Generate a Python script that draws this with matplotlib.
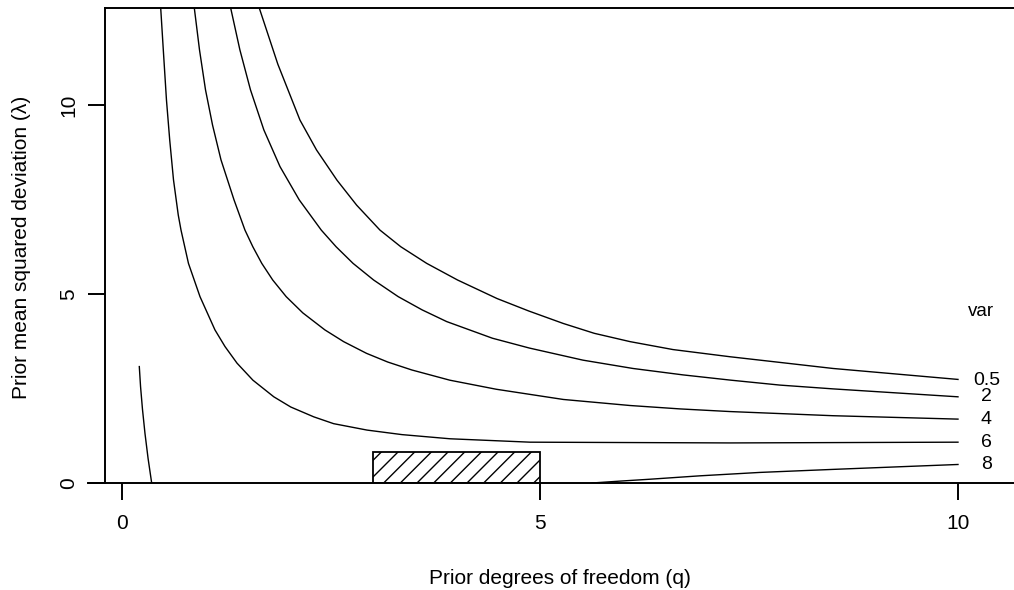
import matplotlib
matplotlib.use('Agg')
import matplotlib.pyplot as plt
from matplotlib.patches import Rectangle

plt.rcParams['font.family'] = ['Liberation Sans', 'DejaVu Sans']
plt.rcParams['hatch.linewidth'] = 1.0

# contour levels of the prior variance
levels = ['0.5', '2', '4', '6', '8']
label_lam = [2.72, 2.28, 1.67, 1.08, 0.48]

q_05 = [1.642, 1.864, 2.129, 2.327, 2.572, 2.807, 3.086, 3.335, 3.645, 4.014, 4.486,
        4.866, 5.279, 5.649, 6.077, 6.591, 7.273, 7.871, 8.505, 10.0]
lam_05 = [12.566, 11.08, 9.60, 8.81, 8.01, 7.35, 6.69, 6.25, 5.81, 5.37, 4.88,
          4.55, 4.22, 3.96, 3.74, 3.53, 3.34, 3.19, 3.03, 2.74]

q_2 = [1.300, 1.410, 1.537, 1.697, 1.890, 2.120, 2.384, 2.561, 2.764, 3.010, 3.304,
       3.590, 3.884, 4.431, 4.873, 5.514, 6.112, 6.711, 7.285, 7.871, 8.505, 10.0]
lam_2 = [12.566, 11.46, 10.40, 9.34, 8.37, 7.49, 6.69, 6.25, 5.81, 5.37, 4.93,
         4.58, 4.27, 3.83, 3.57, 3.25, 3.03, 2.86, 2.72, 2.59, 2.49, 2.28]

q_4 = [0.865, 0.927, 0.999, 1.083, 1.184, 1.340, 1.471, 1.565, 1.672, 1.803, 1.964,
       2.163, 2.427, 2.651, 2.925, 3.179, 3.467, 3.921, 4.477, 5.279, 6.077, 6.675,
       7.273, 8.505, 10.0]
lam_4 = [12.566, 11.46, 10.40, 9.47, 8.55, 7.49, 6.69, 6.25, 5.81, 5.37, 4.93,
         4.50, 4.05, 3.74, 3.43, 3.20, 2.99, 2.72, 2.48, 2.21, 2.05, 1.96,
         1.89, 1.78, 1.69]

q_6 = [0.463, 0.494, 0.532, 0.571, 0.616, 0.673, 0.706, 0.795, 0.933, 1.112, 1.232,
       1.376, 1.566, 1.816, 2.019, 2.294, 2.531, 2.931, 3.349, 3.923, 4.880, 6.077,
       7.273, 10.0]
lam_6 = [12.566, 11.46, 10.13, 9.07, 8.02, 7.09, 6.69, 5.81, 4.93, 4.05, 3.61,
         3.17, 2.72, 2.28, 2.01, 1.75, 1.57, 1.40, 1.28, 1.17, 1.08, 1.07,
         1.06, 1.08]

q_8 = [5.622, 5.957, 6.316, 6.914, 7.632, 8.505, 9.306, 10.0]
lam_8 = [0.0, 0.05, 0.10, 0.19, 0.28, 0.36, 0.43, 0.49]

# small piece near q = 0
q_8b = [0.207, 0.222, 0.245, 0.275, 0.312, 0.355]
lam_8b = [3.08, 2.55, 1.95, 1.31, 0.65, 0.0]

# hatched box of plausible values
box_q = [3, 5]
box_lam = 0.82

fig = plt.figure(figsize=(10.14, 5.9), dpi=100)
ax = fig.add_axes([105 / 1014, 107 / 590, 909 / 1014, 475 / 590])
ax.set_xlim(-0.2033, 10.67)
ax.set_ylim(0, 12.566)

for q, lam in [(q_05, lam_05), (q_2, lam_2), (q_4, lam_4), (q_6, lam_6), (q_8, lam_8), (q_8b, lam_8b)]:
    ax.plot(q, lam, color='black', lw=1.0, solid_joinstyle='round')

for lev, y in zip(levels, label_lam):
    ax.text(10.34, y, lev, ha='center', va='center', fontsize=14)
ax.text(10.28, 4.53, 'var', ha='center', va='center', fontsize=13.5)

ax.add_patch(Rectangle((box_q[0], 0), box_q[1] - box_q[0], box_lam,
                       fill=False, hatch='//', edgecolor='black', lw=1.3))

# axes: left line, top line, and a long baseline at zero
for side in ['right', 'bottom']:
    ax.spines[side].set_visible(False)
for side in ['left', 'top']:
    ax.spines[side].set_linewidth(1.4)
ax.axhline(0, xmin=-17 / 909, xmax=1, color='black', lw=1.4, clip_on=False)

ax.set_xticks([0, 5, 10])
ax.set_yticks([0, 5, 10])
ax.tick_params(axis='x', direction='out', length=12, width=1.4, labelsize=15, pad=10)
ax.tick_params(axis='y', direction='out', length=12, width=1.4, labelsize=15, pad=7)
plt.setp(ax.get_yticklabels(), rotation=90, va='center')

fig.text(559.5 / 1014, 1 - 578 / 590, 'Prior degrees of freedom (q)',
         ha='center', va='center', fontsize=15)
fig.text(22 / 1014, 1 - 247.5 / 590, 'Prior mean squared deviation (\u03bb)',
         ha='center', va='center', rotation=90, fontsize=15)

fig.savefig('out.png', dpi=100)
